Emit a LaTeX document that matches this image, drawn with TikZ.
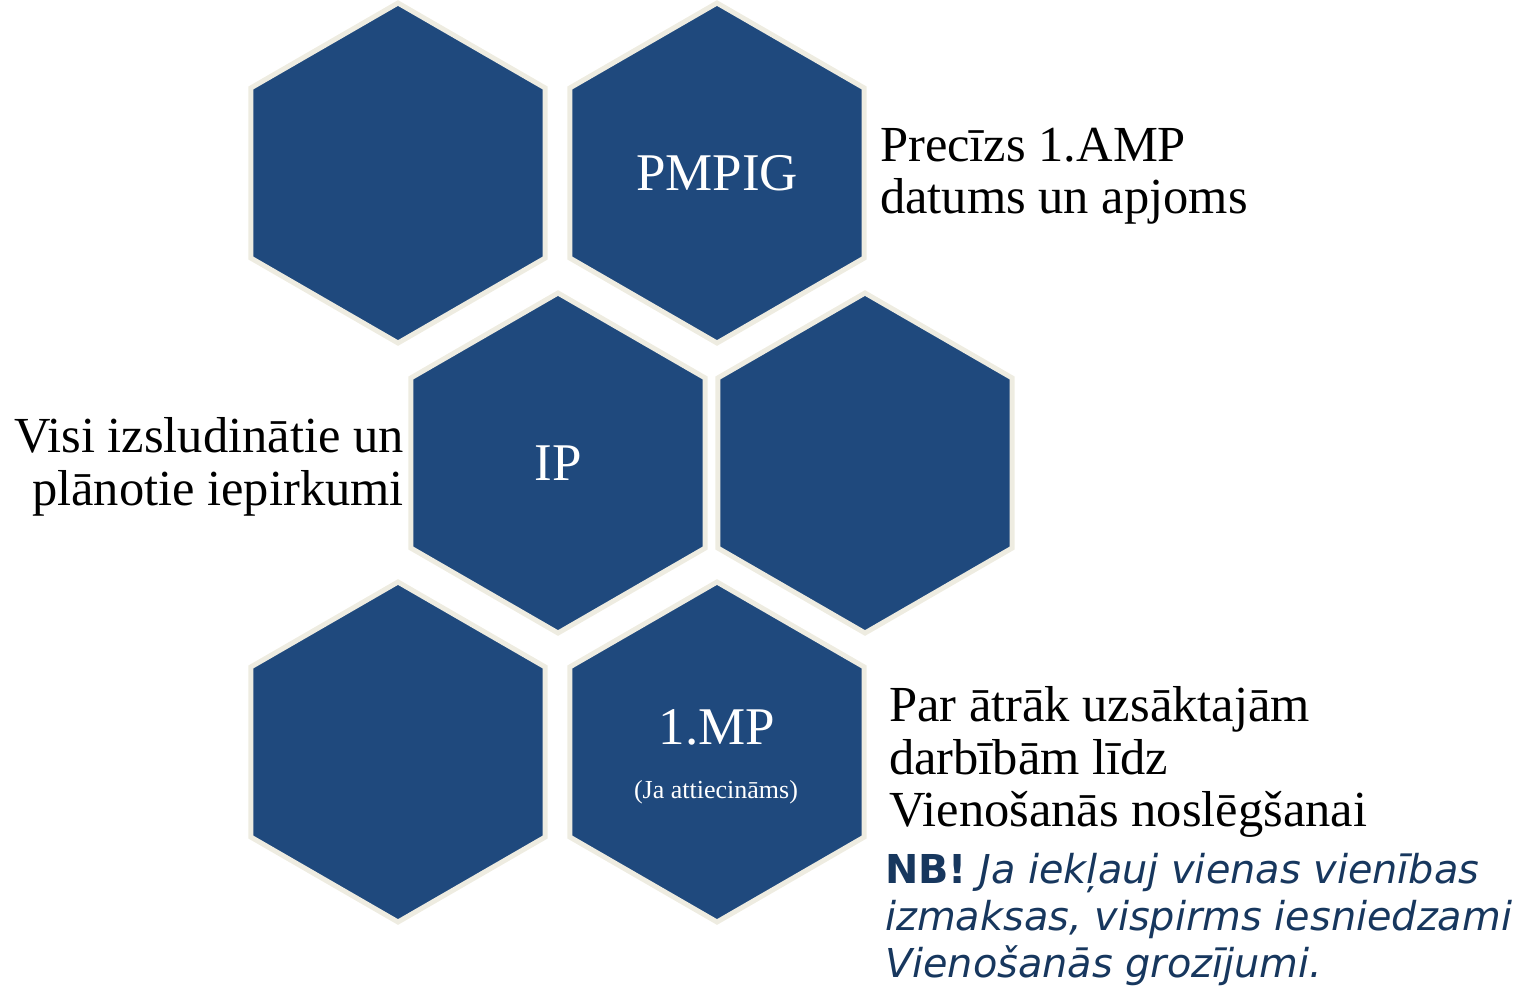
\documentclass[tikz,border=0pt]{standalone}
\usepackage{fontspec}
\setmainfont{Liberation Serif}
\newfontfamily\nbfont{DejaVu Sans}
\usetikzlibrary{shapes.geometric}
\definecolor{hexblue}{RGB}{31,73,125}
\definecolor{hexrim}{RGB}{238,236,225}
\definecolor{nbblue}{RGB}{23,55,94}
\begin{document}
\begin{tikzpicture}[x=1pt,y=-1pt,
  hex/.style={regular polygon, regular polygon sides=6, shape border rotate=30,
    fill=hexblue, draw=hexrim, line width=5pt, inner sep=0pt, minimum size=340pt,
    text=white, font=\fontsize{53}{60}\selectfont},
  side/.style={font=\fontsize{50.5}{52.5}\selectfont, inner sep=0pt}]
\useasboundingbox (0,0) rectangle (1532,986);
% top row
\node [hex] (top left) at (398,173) {};
\node [hex] (pmpig) at (717,173) {PMPIG};
% middle row
\node [hex] (ip) at (558,463) {IP};
\node [hex] (mid right) at (865,463) {};
% bottom row
\node [hex] (bot left) at (398,752) {};
\node [hex] (mp) at (717,752) {};
\node [text=white, font=\fontsize{53}{60}\selectfont] (mp title) at (717,727) {1.MP};
\node [text=white, font=\fontsize{26}{30}\selectfont] (mp note) at (716,792) {(Ja attiecināms)};
% texts beside the hexagons
\node [side, anchor=west, align=left] (amp) at (880,176) {Precīzs 1.AMP\\datums un apjoms};
\node [side, anchor=east, align=right] (ip text) at (404,467) {Visi izsludinātie un\\plānotie iepirkumi};
\node [side, anchor=west, align=left] (early) at (889,762) {Par ātrāk uzsāktajām\\darbībām līdz\\Vienošanās noslēgšanai};
\node [anchor=west, align=left, inner sep=0pt, text=nbblue, font=\nbfont\fontsize{39.8}{47}\selectfont] (nb) at (885,920)
  {\textbf{NB!} \textit{Ja iekļauj vienas vienības}\\\textit{izmaksas, vispirms iesniedzami}\\\textit{Vienošanās grozījumi.}};
\end{tikzpicture}
\end{document}
